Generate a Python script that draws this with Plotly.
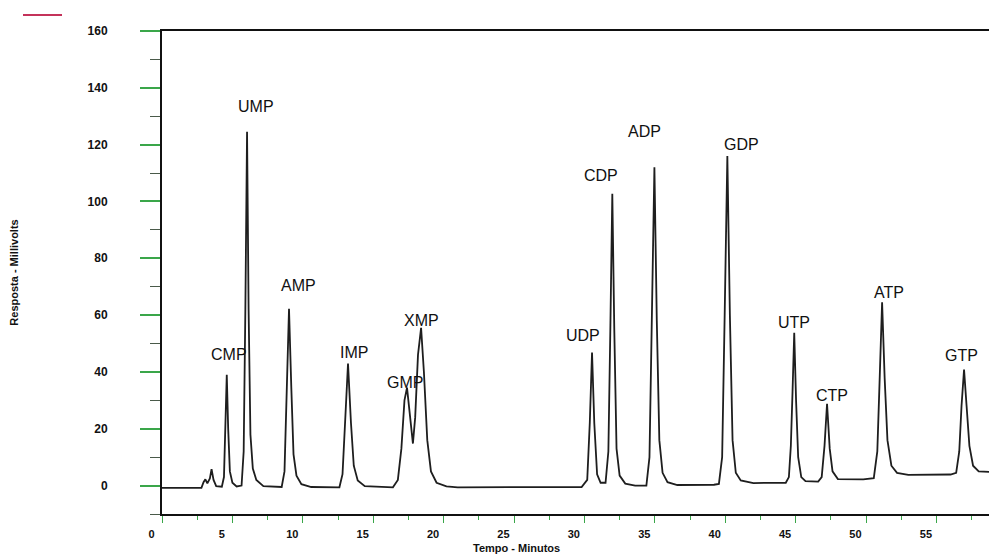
import plotly.graph_objects as go

# ---- data (time in minutes, response in mV) ----
time_min = [
    0.0, 2.8, 2.95, 3.08, 3.22, 3.4, 3.52, 3.66, 3.85, 4.25,
    4.4, 4.5, 4.6, 4.7, 4.82, 5.0, 5.3,
    5.65, 5.8, 5.92, 6.04, 6.15, 6.28, 6.45, 6.7, 7.2,
    8.5, 8.7, 8.86, 9.02, 9.18, 9.34, 9.55, 9.9, 10.6,
    12.6, 12.82, 13.0, 13.21, 13.42, 13.62, 13.9, 14.4,
    16.4, 16.75, 17.0, 17.22, 17.4, 17.58, 17.82, 17.98, 18.18, 18.4, 18.6, 18.84, 19.1, 19.5, 20.2, 21.0,
    29.8, 30.2, 30.38, 30.54, 30.7, 30.9, 31.15,
    31.5, 31.7, 31.84, 31.98, 32.12, 32.28, 32.5, 32.9, 33.6,
    34.4, 34.62, 34.8, 34.97, 35.14, 35.32, 35.55, 35.9, 36.6, 39.2,
    39.55, 39.78, 39.96, 40.15, 40.33, 40.52, 40.75, 41.1, 42.0, 44.3,
    44.52, 44.66, 44.78, 44.9, 45.03, 45.18, 45.4, 45.7, 46.6,
    46.85, 47.05, 47.23, 47.42, 47.62, 48.0, 49.8,
    50.55, 50.8, 50.97, 51.14, 51.32, 51.52, 51.8, 52.2, 53.0, 56.0,
    56.4, 56.62, 56.78, 56.96, 57.14, 57.34, 57.6, 58.0, 59.4,
]
response_mv = [
    -0.8, -0.8, 1.2, 2.2, 0.8, 2.5, 5.8, 2.0, -0.2, -0.4,
    3, 20, 39, 20, 5, 1, -0.3,
    0, 12, 62, 124.5, 62, 18, 6, 2, -0.2,
    -0.5, 5, 35, 62.2, 35, 11, 3.5, 0.5, -0.5,
    -0.6, 4, 22, 43, 22, 7, 1.8, -0.2,
    -0.6, 2, 13, 30, 34.5, 27, 14.8, 24, 46, 55.5, 40, 16, 5, 1, -0.3, -0.6,
    -0.5, 2, 22, 46.8, 22, 4, 1,
    1, 12, 55, 102.7, 55, 13, 3.5, 0.7, 0,
    0, 10, 58, 112, 58, 16, 4.5, 1.2, 0.2, 0.3,
    0.6, 10, 60, 116, 60, 16, 4.5, 1.8, 0.9, 1.0,
    3, 14, 33, 53.8, 30, 10, 3, 1.6, 1.4,
    3, 14, 28.8, 13, 5, 2.3, 2.2,
    2.6, 12, 38, 64.5, 38, 16, 7, 4.5, 3.8, 3.9,
    4.5, 12, 28, 40.8, 28, 14, 7, 5, 4.7,
]

peak_names = ["CMP", "UMP", "AMP", "IMP", "GMP", "XMP", "UDP", "CDP",
              "ADP", "GDP", "UTP", "CTP", "ATP", "GTP"]
label_time = [4.76, 6.68, 9.66, 13.6, 17.26, 18.46, 29.9, 31.18,
              34.3, 41.12, 44.9, 47.6, 51.64, 56.8]
label_mv = [46.1, 133.3, 70.3, 46.8, 36.2, 58.0, 53.0, 109.0,
            124.8, 120.0, 57.3, 31.6, 67.9, 45.7]

x_tick_vals = [0, 5, 10, 15, 20, 25, 30, 35, 40, 45, 50, 55, 60]
x_tick_text = ["0", "5", "10", "15", "20", "25", "30", "35", "40", "45", "50", "55", "60"]
y_tick_vals = [0, 20, 40, 60, 80, 100, 120, 140, 160]
y_tick_text = ["0", "20", "40", "60", "80", "100", "120", "140", "160"]

x_range = [0, 59.3]
y_range = [-10, 160]

# ---- layout geometry (the page body adds an 8px offset) ----
W, H = 989, 548
M_L, M_R, M_T, M_B = 132, 0, 23, 42
AXIS_PX = 154                       # pixel where the time axis starts (t = 0)
plot_w = W - M_L - M_R
x_dom0 = (AXIS_PX - M_L) / plot_w
px_per_min = (W - AXIS_PX) / (x_range[1] - x_range[0])
label_shift_min = 0.75              # tick labels sit a little left of their ticks
x2_range = [x_range[0] - (AXIS_PX - M_L) / px_per_min + label_shift_min,
            x_range[1] + label_shift_min]

GREEN = "#3aa64a"
FONT = "Liberation Sans, Arial, sans-serif"

fig = go.Figure()
fig.add_trace(go.Scatter(
    x=time_min, y=response_mv, mode="lines",
    line=dict(color="#1e1e1e", width=1.8),
    showlegend=False, hoverinfo="skip",
))
# empty trace carrying the label-only x axis
fig.add_trace(go.Scatter(x=[], y=[], xaxis="x2", yaxis="y", showlegend=False))

annotations = []
for name, t, v in zip(peak_names, label_time, label_mv):
    annotations.append(dict(
        x=t, y=v, xref="x", yref="y", text=name, showarrow=False,
        xanchor="center", yanchor="middle",
        font=dict(family=FONT, size=16, color="#111111"),
    ))
annotations.append(dict(
    x=(508 - M_L) / plot_w, y=-0.070, xref="paper", yref="paper", text="Tempo - Minutos",
    showarrow=False, xanchor="center", yanchor="middle",
    font=dict(family=FONT, size=11, color="#111111", weight="bold"),
))

fig.update_layout(
    width=W, height=H,
    margin=dict(l=M_L, r=M_R, t=M_T, b=M_B, autoexpand=False),
    paper_bgcolor="white", plot_bgcolor="rgba(0,0,0,0)",
    font=dict(family=FONT, color="#111111"),
    xaxis=dict(
        domain=[x_dom0, 1], range=x_range, automargin=False,
        showgrid=False, zeroline=False,
        showline=True, linecolor="#111111", linewidth=2, mirror=True,
        tickmode="linear", tick0=0, dtick=5,
        ticks="outside", ticklen=7, tickwidth=1, tickcolor=GREEN,
        minor=dict(ticks="outside", dtick=2.5, tick0=0, ticklen=4, tickwidth=1, tickcolor=GREEN),
        showticklabels=False,
    ),
    xaxis2=dict(
        domain=[0, 1], anchor="y", side="bottom", automargin=False,
        range=x2_range,
        showgrid=False, zeroline=False, showline=False, ticks="",
        tickmode="array", tickvals=x_tick_vals, ticktext=x_tick_text,
        tickfont=dict(family=FONT, size=11, color="#111111", weight="bold"),
        ticklabelstandoff=12,
    ),
    yaxis=dict(
        anchor="x", range=y_range, automargin=False,
        showgrid=False, zeroline=False,
        showline=True, linecolor="#111111", linewidth=2,
        tickmode="array", tickvals=y_tick_vals, ticktext=y_tick_text,
        ticks="outside", ticklen=20, tickwidth=2, tickcolor=GREEN,
        minor=dict(ticks="outside", dtick=10, tick0=0, ticklen=10, tickwidth=1, tickcolor="#4a5a4a"),
        tickfont=dict(family=FONT, size=12, color="#111111", weight="bold"),
        ticklabelstandoff=30,
        title=dict(text="Resposta - Millivolts", standoff=73,
                   font=dict(family=FONT, size=11, color="#111111", weight="bold")),
    ),
    annotations=annotations,
    shapes=[dict(
        type="line", xref="paper", yref="paper",
        x0=(15 - M_L) / plot_w, x1=(54 - M_L) / plot_w, y0=1.033, y1=1.033,
        line=dict(color="#c4325a", width=2),
    )],
)

fig.write_html("out.html")
